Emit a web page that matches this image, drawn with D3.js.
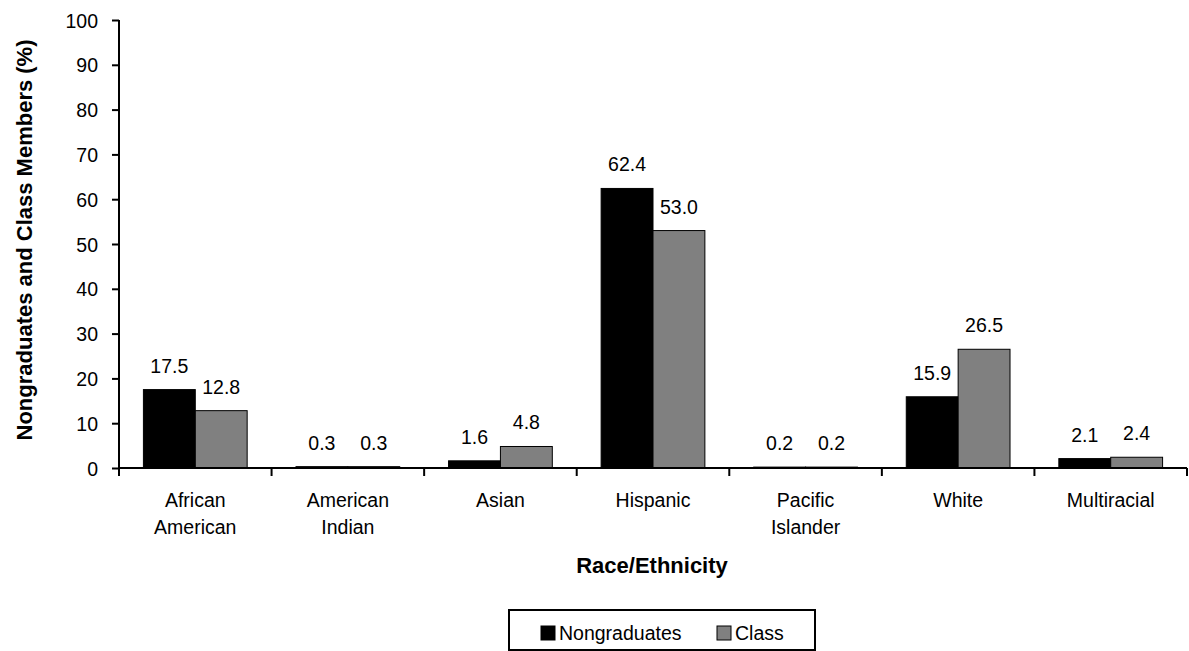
<!DOCTYPE html>
<html>
<head>
<meta charset="utf-8">
<script src="https://cdn.jsdelivr.net/npm/d3@7"></script>
<style>
  body { margin: 0; background: #fff; }
  text { font-family: "Liberation Sans", Arial, sans-serif; fill: #000; }
  .num { font-size: 19.5px; }
  .title { font-weight: bold; font-size: 22px; }
</style>
</head>
<body>
<div class="chart"></div>
<script>
// data
const categories = [["African", "American"], ["American", "Indian"], ["Asian"], ["Hispanic"], ["Pacific", "Islander"], ["White"], ["Multiracial"]];
const seriesNames = ["Nongraduates", "Class"];
const nongraduates = [17.5, 0.3, 1.6, 62.4, 0.2, 15.9, 2.1];
const classMembers = [12.8, 0.3, 4.8, 53.0, 0.2, 26.5, 2.4];
const yTicks = [0, 10, 20, 30, 40, 50, 60, 70, 80, 90, 100];
const colors = ["#000000", "#808080"];

const W = 1189, H = 651;
const margin = ({ top: 20, right: 2, bottom: 183, left: 119 });
const width = W - margin.left - margin.right,
    height = H - margin.top - margin.bottom;

const svg = d3.select(".chart").append("svg")
    .attr("width", W)
    .attr("height", H);

const keys = categories.map(c => c.join(" "));
const data = keys.map((k, i) => ({ key: k, lines: categories[i], values: [nongraduates[i], classMembers[i]] }));

const x0 = d3.scaleBand().domain(keys).range([0, width]).padding(0);
const x1 = d3.scaleBand().domain(seriesNames)
    .range([x0.bandwidth() * 0.16, x0.bandwidth() * 0.84]);
const y = d3.scaleLinear().domain([0, 100]).range([height, 0]);

const g = svg.append("g")
    .attr("transform", `translate(${margin.left},${margin.top})`);

// bars
const groups = g.selectAll(".grp").data(data).enter().append("g")
    .attr("class", "grp")
    .attr("transform", d => `translate(${x0(d.key)},0)`);

groups.selectAll("rect")
    .data(d => d.values.map((v, j) => ({ s: seriesNames[j], v: v, j: j })))
    .enter().append("rect")
    .attr("x", d => x1(d.s))
    .attr("y", d => y(d.v))
    .attr("width", x1.bandwidth())
    .attr("height", d => height - y(d.v))
    .attr("fill", d => colors[d.j])
    .attr("stroke", "#000")
    .attr("stroke-width", 1);

groups.selectAll(".lbl")
    .data(d => d.values.map((v, j) => ({ s: seriesNames[j], v: v })))
    .enter().append("text")
    .attr("class", "lbl num")
    .attr("x", d => x1(d.s) + x1.bandwidth() / 2)
    .attr("y", d => y(d.v) - 17)
    .attr("text-anchor", "middle")
    .text(d => d.v.toFixed(1));

// y axis
const yAxis = d3.axisLeft(y).tickValues(yTicks).tickSize(7).tickPadding(14);
const ya = g.append("g").attr("class", "axis y-axis").call(yAxis);
ya.select(".domain").remove();
ya.append("line").attr("x1", 0).attr("x2", 0).attr("y1", 0).attr("y2", height)
    .attr("stroke", "#000").attr("stroke-width", 2);
ya.selectAll(".tick line").attr("stroke", "#000").attr("stroke-width", 2);
ya.selectAll(".tick text").attr("class", "num").attr("fill", "#000")
    .attr("dy", "0.36em").style("font-size", "19.5px").style("font-family", null);

// x axis
const xa = g.append("g").attr("class", "axis x-axis")
    .attr("transform", `translate(0,${height})`);
xa.append("line").attr("x1", 0).attr("x2", width)
    .attr("stroke", "#000").attr("stroke-width", 2);
xa.selectAll(".xt").data(keys.concat(["end"])).enter().append("line")
    .attr("class", "xt")
    .attr("x1", (d, i) => i * x0.step()).attr("x2", (d, i) => i * x0.step())
    .attr("y1", 0).attr("y2", 8)
    .attr("stroke", "#000").attr("stroke-width", 2);
const xl = xa.selectAll(".xlab").data(data).enter().append("text")
    .attr("class", "xlab num")
    .attr("text-anchor", "middle")
    .attr("transform", d => `translate(${x0(d.key) + x0.bandwidth() / 2},39)`);
xl.selectAll("tspan").data(d => d.lines).enter().append("tspan")
    .attr("x", 0).attr("y", (d, i) => i * 27).text(d => d);

// axis titles
svg.append("text").attr("class", "title")
    .attr("transform", "translate(32,240) rotate(-90)")
    .attr("text-anchor", "middle")
    .text("Nongraduates and Class Members (%)");
svg.append("text").attr("class", "title")
    .attr("x", 652).attr("y", 573)
    .attr("text-anchor", "middle")
    .text("Race/Ethnicity");

// legend
const lg = svg.append("g").attr("transform", "translate(509,610)");
lg.append("rect").attr("x", 0).attr("y", 0).attr("width", 306).attr("height", 40)
    .attr("fill", "#fff").attr("stroke", "#000").attr("stroke-width", 2);
const itemX = [32, 208];
seriesNames.forEach((s, i) => {
    lg.append("rect").attr("x", itemX[i]).attr("y", 16).attr("width", 14).attr("height", 14)
        .attr("fill", colors[i]).attr("stroke", "#000").attr("stroke-width", 1);
    lg.append("text").attr("class", "num").attr("x", itemX[i] + 18).attr("y", 30).text(s);
});
</script>
</body>
</html>
